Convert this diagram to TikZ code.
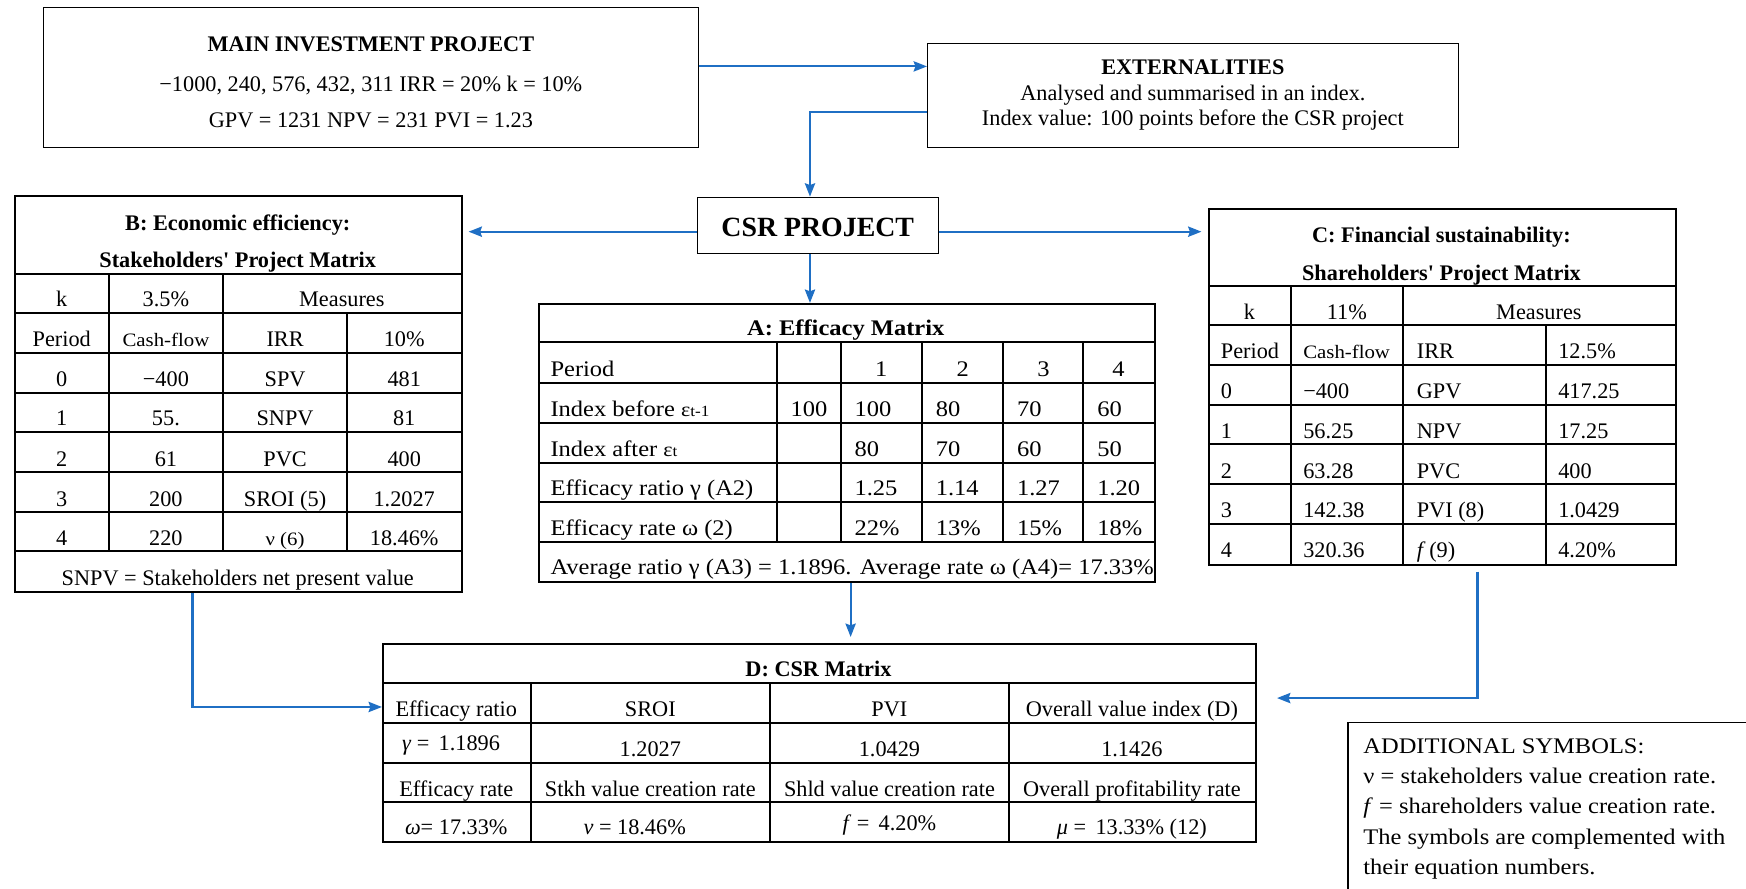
\documentclass[tikz,border=0pt]{standalone}
\usepackage{fontspec}
\setmainfont{Liberation Serif}
\newfontfamily\palfont[FakeStretch=1.1]{Liberation Serif}
\usetikzlibrary{arrows.meta,positioning}
\definecolor{linkblue}{RGB}{31,111,196}
\tikzset{
	>={Stealth[length=6pt,width=4.6pt,inset=0.8pt]}, % filled triangular heads
	link/.style={->, draw=linkblue, line width=0.95pt},
	box/.style={draw, line width=0.5pt, anchor=north west, inner sep=0pt, align=center},
	tabframe/.style={draw, line width=0.9pt, anchor=north west, inner sep=0pt},
	rule/.style={line width=0.9pt},
	txt/.style={anchor=base, inner sep=0pt, font=\fontsize{10}{12}\selectfont},
	txtl/.style={txt, anchor=base west},
	head/.style={txt, font=\fontsize{10}{12}\selectfont\bfseries},
	pal/.style={font=\palfont\fontsize{10}{12}\selectfont},
	smallsz/.style={font=\palfont\fontsize{8.5}{10}\selectfont},
}

\begin{document}
\begin{tikzpicture}[x=0.5pt, y=-0.5pt]
	\useasboundingbox (0,0) rectangle (1568,798);

	% top boxes
	\node[box, minimum width=293.85pt, minimum height=62.55pt, font=\fontsize{10}{16}\selectfont] (main) at (38.7,6.6)
		{\rule{0pt}{11pt}\textbf{MAIN INVESTMENT PROJECT}\\[2pt] −1000, 240, 576, 432, 311 IRR = 20\% k = 10\%\\ GPV = 1231 NPV = 231 PVI = 1.23};
	\node[box, minimum width=238.25pt, minimum height=46.7pt, font=\fontsize{10}{11.5}\selectfont] (ext) at (832.5,38.3)
		{\textbf{EXTERNALITIES}\\ Analysed and summarised in an index.\\ Index value: 100 points before the CSR project};
	\node[box, minimum width=108.1pt, minimum height=25.45pt, text height=10pt, font=\fontsize{12.5}{14}\selectfont\bfseries] (csr) at (625.8,176.6) {CSR PROJECT};

	% B matrix
	\node[tabframe, minimum width=200.5pt, minimum height=178pt] (tabB) at (13,175) {};
	\draw[rule] (13,246) -- (414,246) (13,281) -- (414,281) (13,317) -- (414,317) (13,353) -- (414,353)
		(13,388) -- (414,388) (13,424) -- (414,424) (13,460) -- (414,460) (13,495) -- (414,495);
	\draw[rule] (98,246) -- (98,495) (200,246) -- (200,495) (312,281) -- (312,495);
	\node[head] (bt1) at (213.5,207) {B: Economic efficiency:};
	\node[head] (bt2) at (213.5,240) {Stakeholders\textquotesingle{} Project Matrix};
	\node[txt] (b11) at (55.5,275.5) {k};
	\node[txt] (b12) at (149,275.5) {3.5\%};
	\node[txt] (b13) at (307,275.5) {Measures};
	\node[txt] (b21) at (55.5,311.5) {Period};
	\node[txt, smallsz] (b22) at (149,311.5) {Cash-flow};
	\node[txt] (b23) at (256,311.5) {IRR};
	\node[txt] (b24) at (363,311.5) {10\%};
	\node[txt] (b31) at (55.5,347.5) {0};
	\node[txt] (b32) at (149,347.5) {−400};
	\node[txt] (b33) at (256,347.5) {SPV};
	\node[txt] (b34) at (363,347.5) {481};
	\node[txt] (b41) at (55.5,382.5) {1};
	\node[txt] (b42) at (149,382.5) {55.};
	\node[txt] (b43) at (256,382.5) {SNPV};
	\node[txt] (b44) at (363,382.5) {81};
	\node[txt] (b51) at (55.5,418.5) {2};
	\node[txt] (b52) at (149,418.5) {61};
	\node[txt] (b53) at (256,418.5) {PVC};
	\node[txt] (b54) at (363,418.5) {400};
	\node[txt] (b61) at (55.5,454.5) {3};
	\node[txt] (b62) at (149,454.5) {200};
	\node[txt] (b63) at (256,454.5) {SROI (5)};
	\node[txt] (b64) at (363,454.5) {1.2027};
	\node[txt] (b71) at (55.5,489.5) {4};
	\node[txt] (b72) at (149,489.5) {220};
	\node[txt, smallsz] (b73) at (256,489.5) {ν (6)};
	\node[txt] (b74) at (363,489.5) {18.46\%};
	\node[txt] (bfoot) at (213.5,525.5) {SNPV = Stakeholders net present value};

	% A matrix
	\node[tabframe, minimum width=276.5pt, minimum height=125pt] (tabA) at (483,272) {};
	\draw[rule] (483,307) -- (1036,307) (483,344) -- (1036,344) (483,380) -- (1036,380)
		(483,416) -- (1036,416) (483,451) -- (1036,451) (483,487) -- (1036,487);
	\draw[rule] (698,307) -- (698,487) (755,307) -- (755,487) (828,307) -- (828,487)
		(901,307) -- (901,487) (973,307) -- (973,487);
	\node[txt, pal, font=\palfont\fontsize{10}{12}\selectfont\bfseries] (at1) at (759.5,301) {A: Efficacy Matrix};
	\node[txtl, pal] (a11) at (494,338) {Period};
	\node[txt, pal] (a13) at (791.5,338) {1};
	\node[txt, pal] (a14) at (864.5,338) {2};
	\node[txt, pal] (a15) at (937,338) {3};
	\node[txt, pal] (a16) at (1004.5,338) {4};
	\node[txtl, pal] (a21) at (494,374) {Index before {\small ε}{\scriptsize t-1}};
	\node[txt, pal] (a22) at (726.5,374) {100};
	\node[txtl, pal] (a23) at (767,374) {100};
	\node[txtl, pal] (a24) at (840,374) {80};
	\node[txtl, pal] (a25) at (913,374) {70};
	\node[txtl, pal] (a26) at (985,374) {60};
	\node[txtl, pal] (a31) at (494,410) {Index after {\small ε}{\scriptsize t}};
	\node[txtl, pal] (a33) at (767,410) {80};
	\node[txtl, pal] (a34) at (840,410) {70};
	\node[txtl, pal] (a35) at (913,410) {60};
	\node[txtl, pal] (a36) at (985,410) {50};
	\node[txtl, pal] (a41) at (494,445) {Efficacy ratio γ (A2)};
	\node[txtl, pal] (a43) at (767,445) {1.25};
	\node[txtl, pal] (a44) at (840,445) {1.14};
	\node[txtl, pal] (a45) at (913,445) {1.27};
	\node[txtl, pal] (a46) at (985,445) {1.20};
	\node[txtl, pal] (a51) at (494,481) {Efficacy rate ω (2)};
	\node[txtl, pal] (a53) at (767,481) {22\%};
	\node[txtl, pal] (a54) at (840,481) {13\%};
	\node[txtl, pal] (a55) at (913,481) {15\%};
	\node[txtl, pal] (a56) at (985,481) {18\%};
	\node[txtl, pal] (afoot) at (494,516) {Average ratio γ (A3) = 1.1896. Average rate ω (A4)= 17.33\%};

	% C matrix
	\node[tabframe, minimum width=209.5pt, minimum height=159.75pt] (tabC) at (1085,187) {};
	\draw[rule] (1085,256.6) -- (1504,256.6) (1085,292) -- (1504,292) (1085,328) -- (1504,328) (1085,364) -- (1504,364)
		(1085,399) -- (1504,399) (1085,435) -- (1504,435) (1085,471) -- (1504,471);
	\draw[rule] (1159,256.6) -- (1159,506.5) (1260,256.6) -- (1260,506.5) (1388,292) -- (1388,506.5);
	\node[head] (ct1) at (1294.5,218) {C: Financial sustainability:};
	\node[head] (ct2) at (1294.5,251.5) {Shareholders\textquotesingle{} Project Matrix};
	\node[txt] (c11) at (1122,286.5) {k};
	\node[txt] (c12) at (1209.5,286.5) {11\%};
	\node[txt] (c13) at (1382,286.5) {Measures};
	\node[txtl] (c21) at (1096,322) {Period};
	\node[txtl, smallsz] (c22) at (1170,322) {Cash-flow};
	\node[txtl] (c23) at (1272,322) {IRR};
	\node[txtl] (c24) at (1399,322) {12.5\%};
	\node[txtl] (c31) at (1096,358) {0};
	\node[txtl] (c32) at (1170,358) {−400};
	\node[txtl] (c33) at (1272,358) {GPV};
	\node[txtl] (c34) at (1399,358) {417.25};
	\node[txtl] (c41) at (1096,393.5) {1};
	\node[txtl] (c42) at (1170,393.5) {56.25};
	\node[txtl] (c43) at (1272,393.5) {NPV};
	\node[txtl] (c44) at (1399,393.5) {17.25};
	\node[txtl] (c51) at (1096,429.5) {2};
	\node[txtl] (c52) at (1170,429.5) {63.28};
	\node[txtl] (c53) at (1272,429.5) {PVC};
	\node[txtl] (c54) at (1399,429.5) {400};
	\node[txtl] (c61) at (1096,465) {3};
	\node[txtl] (c62) at (1170,465) {142.38};
	\node[txtl] (c63) at (1272,465) {PVI (8)};
	\node[txtl] (c64) at (1399,465) {1.0429};
	\node[txtl] (c71) at (1096,501) {4};
	\node[txtl] (c72) at (1170,501) {320.36};
	\node[txtl] (c73) at (1272,501) {\textit{f}\,(9)};
	\node[txtl] (c74) at (1399,501) {4.20\%};

	% D matrix
	\node[tabframe, minimum width=392pt, minimum height=89pt] (tabD) at (343,577) {};
	\draw[rule] (343,613) -- (1127,613) (343,649) -- (1127,649) (343,685) -- (1127,685) (343,720) -- (1127,720);
	\draw[rule] (476.5,613) -- (476.5,755) (691.5,613) -- (691.5,755) (906,613) -- (906,755);
	\node[head] (dt) at (735,607.5) {D: CSR Matrix};
	\node[txt] (d11) at (409.75,643.5) {Efficacy ratio};
	\node[txt] (d12) at (584,643.5) {SROI};
	\node[txt] (d13) at (798.75,643.5) {PVI};
	\node[txt] (d14) at (1016.5,643.5) {Overall value index (D)};
	\node[txt] (d21) at (405,674) {\textit{γ} =\, 1.1896};
	\node[txt] (d22) at (584,679.5) {1.2027};
	\node[txt] (d23) at (798.75,679.5) {1.0429};
	\node[txt] (d24) at (1016.5,679.5) {1.1426};
	\node[txt] (d31) at (409.75,715) {Efficacy rate};
	\node[txt] (d32) at (584,715) {Stkh value creation rate};
	\node[txt] (d33) at (798.75,715) {Shld value creation rate};
	\node[txt] (d34) at (1016.5,715) {Overall profitability rate};
	\node[txt] (d41) at (409.75,749.5) {\textit{ω}= 17.33\%};
	\node[txt] (d42) at (570,749.5) {\textit{ν} = 18.46\%};
	\node[txt] (d43) at (798.75,746) {\textit{f} =\, 4.20\%};
	\node[txt] (d44) at (1016.5,749.5) {\textit{μ} =\, 13.33\% (12)};

	% symbols note, running off the page
	\node[box, line width=0.6pt, minimum width=190pt, minimum height=100pt] (symb) at (1210,648) {};
	\node[txtl, align=left, font=\palfont\fontsize{10}{13.5}\selectfont] (symbtxt) at (1224,785)
		{ADDITIONAL SYMBOLS:\\ ν = stakeholders value creation rate.\\ \textit{f} = shareholders value creation rate.\\
		 The symbols are complemented with\\ their equation numbers.};

	% connectors
	\draw[link] ([yshift=5pt]main.east) -- ([yshift=5pt]main.east -| ext.west);
	\draw[link] ([yshift=-7.5pt]ext.west) -| ([xshift=-3.5pt]csr.north);
	\draw[link, shorten >=2.5pt] ([yshift=-2.75pt]csr.west) -- ([yshift=-2.75pt]csr.west -| tabB.east);
	\draw[link, shorten >=3pt] ([yshift=-2.75pt]csr.east) -- ([yshift=-2.75pt]csr.east -| tabC.west);
	\draw[link] ([xshift=-3.5pt]csr.south) -- ([xshift=-3.5pt]csr.south |- tabA.north);
	\draw[link, shorten >=2.5pt] ([xshift=1.75pt]tabA.south) -- ([xshift=1.75pt]tabA.south |- tabD.north);
	\draw[link] ([xshift=-20.75pt]tabB.south) |- ([yshift=16pt]tabD.west);
	\draw[link, shorten <=2.5pt] ([xshift=15.75pt]tabC.south) |- ([xshift=9pt,yshift=20pt]tabD.east);
\end{tikzpicture}
\end{document}
